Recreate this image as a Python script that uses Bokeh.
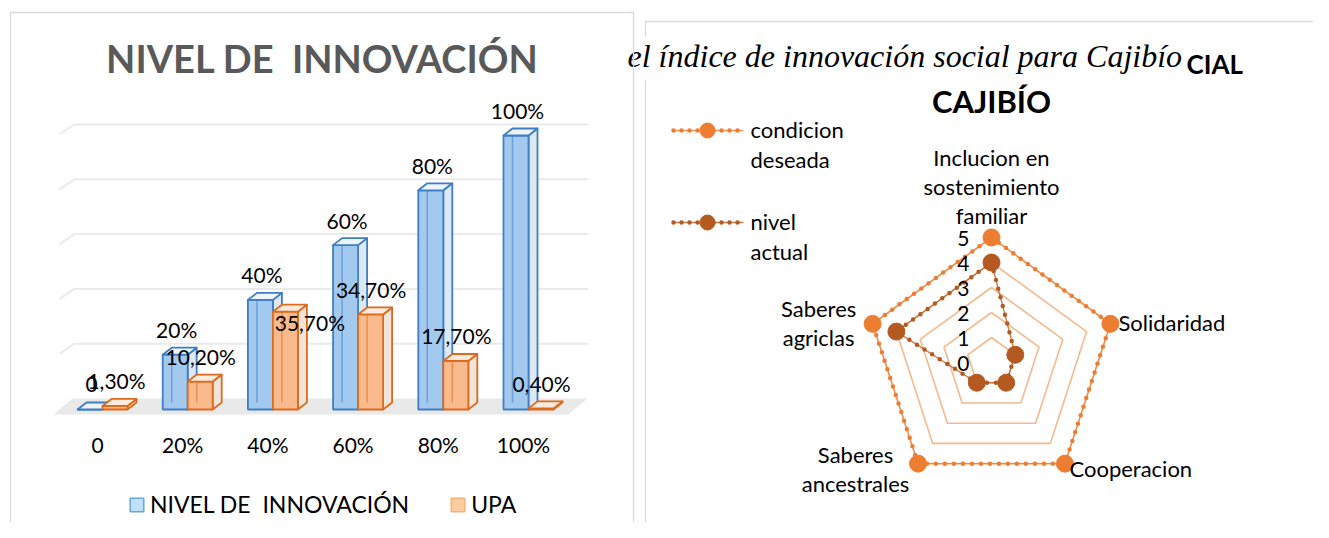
import math
from bokeh.plotting import figure
from bokeh.layouts import row
from bokeh.models import Range1d, FixedTicker, Legend, LegendItem
from bokeh.core.properties import value
from bokeh.embed import file_html
from bokeh.resources import INLINE

# ---------------- data ----------------
categories = ["0", "20%", "40%", "60%", "80%", "100%"]
nivel_innovacion = [0, 20, 40, 60, 80, 100]
upa = [1.3, 10.2, 35.7, 34.7, 17.7, 0.4]
gridline_values = [20, 40, 60, 80, 100]
bar_series = ["NIVEL DE  INNOVACIÓN", "UPA"]
bar_title = "NIVEL DE\u00a0 INNOVACIÓN"

radar_axes = ["Inclucion en\nsostenimiento\nfamiliar", "Solidaridad", "Cooperacion",
              "Saberes\nancestrales", "Saberes\nagriclas"]
condicion_deseada = [5, 5, 5, 5, 5]
nivel_actual = [4, 1, 1, 1, 4]
radar_ticks = [0, 1, 2, 3, 4, 5]
radar_series = ["condicion\ndeseada", "nivel\nactual"]
caption = "el índice de innovación social para Cajibío"
radar_title_top = "CIAL"
radar_title = "CAJIBÍO"

# ---------------- layout / style constants ----------------
FONT = "Lato"
H = 522
W1, W2 = 624, 689
CAT_X0, CAT_DX = 97.0, 85.2      # px of first category, px per category
BASE_Y, PX_PCT = 409.0, 2.74     # px of bar base, px per percent
BLUE_OFF = (-20, 5)
ORNG_OFF = (5, 30)
DEPTH = (9, -7)
LABEL_GAP = 25
upa_label_dx = [19, 18, 42, 18, 18, 18]
upa_label_dy = [25, 25, -11, 25, 26, 25]
BORDER = "#D9D9D9"

BLUE = dict(front="#A3C9EE", side="#DEE8F2", top="#EEF4FA", edge="#3D7EC6")
ORNG = dict(front="#F9BB8D", side="#F3E4DA", top="#FCEADD", edge="#DB6B1F")
NAN = float("nan")


def X(px):
    return (px - CAT_X0) / CAT_DX


def Y(py):
    return (BASE_Y - py) / PX_PCT


# ================= LEFT: 3D clustered columns =================
p1 = figure(width=W1, height=H,
            x_range=Range1d(X(0), X(W1)),
            y_range=Range1d(Y(H), Y(0)),
            output_backend="svg", toolbar_location=None,
            y_axis_location=None, min_border=0, outline_line_color=None,
            background_fill_color="white", border_fill_color="white")
p1.grid.visible = False

# chart-area border
p1.line(x=[X(10), X(10), X(W1 + 2)], y=[Y(545), Y(12), Y(12)],
        line_color=BORDER, line_width=1.3)

# floor
p1.patch(x=[X(53), X(568), X(587), X(72)], y=[Y(414), Y(414), Y(398), Y(398)],
         fill_color="#E9E9E9", line_color=None)

# back-wall gridlines
gx, gy = [], []
for g in gridline_values:
    yb = Y(398) + g
    gx.append([X(59), X(74), X(588)])
    gy.append([yb - 10 / PX_PCT, yb, yb])
p1.multi_line(xs=gx, ys=gy, line_color="#EAEAEA", line_width=2)


def draw_series(vals, off, col):
    ddx = DEPTH[0] / CAT_DX
    ddy = -DEPTH[1] / PX_PCT
    sx, sy, tx, ty, fl, fr, ft, ex, ey = [], [], [], [], [], [], [], [], []
    for i, v in enumerate(vals):
        xl = i + off[0] / CAT_DX
        xr = i + off[1] / CAT_DX
        sx.append([xr, xr + ddx, xr + ddx, xr]); sy.append([0, ddy, v + ddy, v])
        tx.append([xl, xr, xr + ddx, xl + ddx]); ty.append([v, v, v + ddy, v + ddy])
        fl.append(xl); fr.append(xr); ft.append(v)
        ex.append([xl + ddx, xl + ddx]); ey.append([ddy, v])
    p1.patches(xs=sx, ys=sy, fill_color=col["side"], line_color=col["edge"], line_width=1.8,
               line_join="round")
    p1.quad(left=fl, right=fr, bottom=[0] * len(vals), top=ft,
            fill_color=col["front"], line_color=col["edge"], line_width=1.8)
    p1.multi_line(xs=ex, ys=ey, line_color=col["edge"], line_alpha=0.55, line_width=1.5)
    p1.patches(xs=tx, ys=ty, fill_color=col["top"], line_color=col["edge"], line_width=1.8,
               line_join="round")


draw_series(nivel_innovacion, BLUE_OFF, BLUE)
draw_series(upa, ORNG_OFF, ORNG)

# data labels
blue_txt = ["0" if v == 0 else f"{v}%" for v in nivel_innovacion]
upa_txt = [f"{v:.2f}".replace(".", ",") + "%" for v in upa]
p1.text(x=[i - 6 / CAT_DX for i in range(len(categories))],
        y=[v + LABEL_GAP / PX_PCT for v in nivel_innovacion], text=blue_txt,
        text_font=value(FONT), text_font_size="21px", text_color="black",
        text_align="center", text_baseline="middle")
p1.text(x=[i + d / CAT_DX for i, d in enumerate(upa_label_dx)],
        y=[v + d / PX_PCT for v, d in zip(upa, upa_label_dy)], text=upa_txt,
        text_font=value(FONT), text_font_size="21px", text_color="black",
        text_align="center", text_baseline="middle")

# title
p1.text(x=[X(322)], y=[Y(57)], text=[bar_title], text_font=value(FONT),
        text_font_style="bold", text_font_size="38px", text_color="#595959",
        text_align="center", text_baseline="middle")

# category axis
p1.xaxis.ticker = FixedTicker(ticks=list(range(len(categories))))
p1.xaxis.major_label_overrides = {i: c for i, c in enumerate(categories)}
p1.xaxis.fixed_location = Y(423)
p1.xaxis.axis_line_color = None
p1.xaxis.major_tick_line_color = None
p1.xaxis.minor_tick_line_color = None
p1.xaxis.major_label_standoff = 2
p1.xaxis.major_label_text_font = FONT
p1.xaxis.major_label_text_font_size = "21px"
p1.xaxis.major_label_text_color = "black"

# legend (swatch-only renderers, nothing drawn in the plot)
lb = p1.quad(left=[NAN], right=[NAN], top=[NAN], bottom=[NAN], fill_color="#BEE2F8",
             line_color="#6AA5DD", line_width=1.5)
lo = p1.quad(left=[NAN], right=[NAN], top=[NAN], bottom=[NAN], fill_color="#FBCD9E",
             line_color="#F5B27C", line_width=1.5)
leg = Legend(items=[LegendItem(label=bar_series[0], renderers=[lb]),
                    LegendItem(label=bar_series[1], renderers=[lo])],
             orientation="horizontal", location=(128, 4),
             label_text_font=FONT, label_text_font_size="23px", label_text_color="black",
             glyph_width=17, glyph_height=17, label_standoff=5, spacing=40,
             padding=0, margin=0, border_line_color=None, background_fill_alpha=0)
p1.add_layout(leg)

# ================= RIGHT: radar =================
X0R = W1
p2 = figure(width=W2, height=H,
            x_range=Range1d(X0R, X0R + W2), y_range=Range1d(H, 0),
            output_backend="svg", toolbar_location=None,
            x_axis_location=None, y_axis_location=None, min_border=0,
            outline_line_color=None, background_fill_color="white",
            border_fill_color="white")
p2.grid.visible = False

# right panel border
p2.line(x=[645, 645, X0R + W2 + 5], y=[545, 21, 21], line_color=BORDER, line_width=1.3)

# titles (first title line mostly hidden behind the caption)
p2.text(x=[1186], y=[63], text=[radar_title_top], text_font=value(FONT),
        text_font_style="bold", text_font_size="26px", text_color="black",
        text_align="left", text_baseline="middle")
p2.quad(left=[X0R - 5], right=[1184], top=[36], bottom=[80], fill_color="white",
        line_color=None)
p2.text(x=[627], y=[55], text=[caption], text_font=value("Liberation Serif"),
        text_font_style="italic", text_font_size="32px", text_color="black",
        text_align="left", text_baseline="middle")
p2.text(x=[991], y=[100], text=[radar_title], text_font=value(FONT),
        text_font_style="bold", text_font_size="31px", text_color="black",
        text_align="center", text_baseline="middle")

# left panel's right border (drawn over the caption box, as in the source)
p2.line(x=[X0R - 2, 633, 633], y=[12, 12, 545], line_color=BORDER, line_width=1.3)

CX, CY, UNIT = 991.0, 362.0, 25.0
ang = [2 * math.pi * k / len(radar_axes) for k in range(len(radar_axes))]


def rxy(vals):
    xs = [CX + UNIT * v * math.sin(a) for v, a in zip(vals, ang)]
    ys = [CY - UNIT * v * math.cos(a) for v, a in zip(vals, ang)]
    return xs, ys


# rings
rx, ry = [], []
for t in radar_ticks[1:]:
    xs, ys = rxy([t] * len(radar_axes))
    rx.append(xs + [xs[0]]); ry.append(ys + [ys[0]])
p2.multi_line(xs=rx, ys=ry, line_color="#F6B98E", line_width=1.6)

ORANGE = "#ED7D31"
BROWN = "#B45A20"


def draw_radar(vals, color):
    xs, ys = rxy(vals)
    p2.line(xs + [xs[0]], ys + [ys[0]], line_color=color, line_width=1.3, line_alpha=0.8)
    p2.line(xs + [xs[0]], ys + [ys[0]], line_color=color, line_width=4.5,
            line_dash="0 9", line_cap="round")
    p2.scatter(xs, ys, size=17, fill_color=color, line_color=color, marker="circle")


draw_radar(condicion_deseada, ORANGE)
draw_radar(nivel_actual, BROWN)

# radial tick labels
p2.text(x=[969] * len(radar_ticks), y=[CY - UNIT * t + 1 for t in radar_ticks],
        text=[str(t) for t in radar_ticks], text_font=value(FONT), text_font_size="21px",
        text_color="black", text_align="right", text_baseline="middle")

# category labels
vx, vy = rxy(condicion_deseada)
lab_dx = [0, 8, 4.5, -62.5, -54]
lab_dy = [-8, -1, 5, 5, -1]
lab_align = ["center", "left", "left", "center", "center"]
lab_base = ["bottom", "middle", "middle", "middle", "middle"]
for k, name in enumerate(radar_axes):
    p2.text(x=[vx[k] + lab_dx[k]], y=[vy[k] + lab_dy[k]], text=[name],
            text_font=value(FONT), text_font_size="22px", text_color="black",
            text_align=lab_align[k], text_baseline=lab_base[k], text_line_height=1.08)

# legend (manual)
for k, (name, color) in enumerate(zip(radar_series, [ORANGE, BROWN])):
    yl = [130, 222][k]
    p2.line([673, 743], [yl, yl], line_color=color, line_width=1.3, line_alpha=0.8)
    p2.line([673, 743], [yl, yl], line_color=color, line_width=4.5, line_dash="0 8",
            line_cap="round")
    p2.scatter([707], [yl], size=15, fill_color=color, line_color=color)
    p2.text(x=[750], y=[yl + 14], text=[name], text_font=value(FONT), text_font_size="22px",
            text_color="black", text_align="left", text_baseline="middle",
            text_line_height=1.08)

layout = row(p1, p2)
open("out.html", "w").write(file_html(layout, INLINE))
